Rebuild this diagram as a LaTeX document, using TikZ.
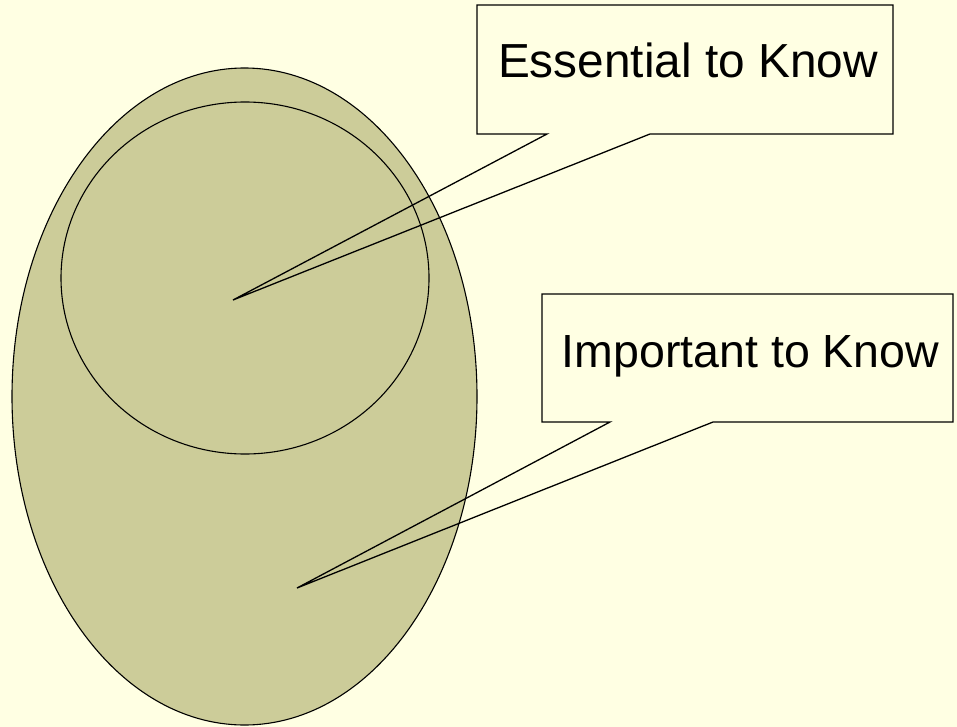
\documentclass[tikz,border=0pt]{standalone}
\usepackage{fontspec}
\setmainfont{Liberation Sans}
\definecolor{paper}{RGB}{255,255,227}
\definecolor{khaki}{RGB}{204,204,153}
\tikzset{
  region/.style={draw=black, line width=1.1pt, fill=khaki},
  callout/.style={draw=black, line width=1.3pt, line join=miter},
  label/.style={anchor=base, inner sep=0pt}
}
\begin{document}
\begin{tikzpicture}[x=1pt, y=-1pt]
  \fill[paper] (0,0) rectangle (957,727);
  \useasboundingbox (0,0) rectangle (957,727);
  % nested knowledge regions
  \draw[region] (244.5,396.5) ellipse [x radius=232.5, y radius=328.5];
  \draw[region] (245,278) ellipse [x radius=184, y radius=176];
  % pointer tips
  \coordinate (tipE) at (233,300);
  \coordinate (tipI) at (297,588);
  % callout outlines
  \draw[callout] (547,134) -- (477,134) -- (477,5) -- (893,5) -- (893,134) -- (650,134) -- (tipE) -- cycle;
  \draw[callout] (610,422) -- (542,422) -- (542,294) -- (953,294) -- (953,422) -- (713,422) -- (tipI) -- cycle;
  % callout texts
  \node[label, font=\fontsize{47.8}{52}\selectfont] (essential) at (688,78) {Essential to Know};
  \node[label, font=\fontsize{46.5}{50}\selectfont] (important) at (750.5,367) {Important to Know};
\end{tikzpicture}
\end{document}
